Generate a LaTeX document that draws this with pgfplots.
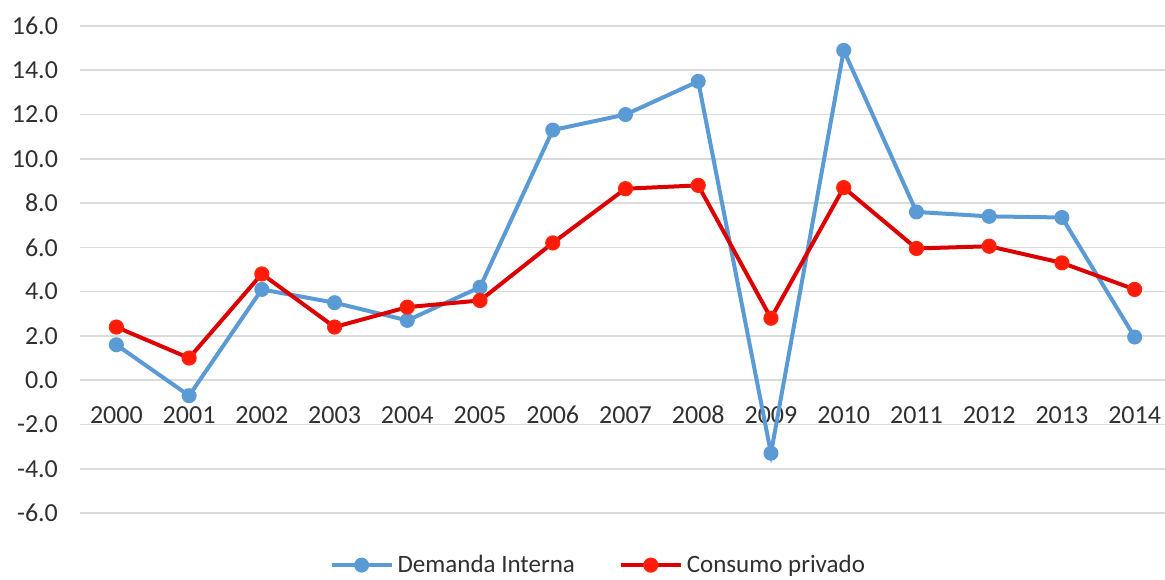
\documentclass[border=0pt]{standalone}
\usepackage{pgfplots}
\usepackage{pgfplotstable}
\pgfplotsset{compat=1.18}
\usepackage{fontspec}
\setmainfont{Carlito}

\definecolor{demanda}{HTML}{5B9BD5}
\definecolor{consumo}{HTML}{DC0000}
\definecolor{consumomark}{HTML}{FF1A0A}
\definecolor{gridc}{HTML}{DADADA}
\definecolor{labelc}{HTML}{303030}

% Tasas de variación anual (%)
\pgfplotstableread{
x  demanda  consumo
0   1.6     2.4
1  -0.7     1.0
2   4.1     4.8
3   3.5     2.4
4   2.7     3.3
5   4.2     3.6
6  11.3     6.2
7  12.0     8.65
8  13.5     8.8
9  -3.3     2.8
10 14.9     8.7
11  7.6     5.95
12  7.4     6.05
13  7.35    5.3
14  1.95    4.1
}\datos

\begin{document}
\begin{tikzpicture}
\begin{axis}[
  at={(0,0)}, anchor=south west,
  scale only axis,
  width=545.5pt, height=243.5pt,
  xmin=-0.5, xmax=14.5,
  ymin=-6, ymax=16,
  xtick={0,...,14},
  xticklabels={2000,2001,2002,2003,2004,2005,2006,2007,2008,2009,2010,2011,2012,2013,2014},
  ytick={-6,-4,...,16},
  ymajorgrids,
  major grid style={gridc, line width=0.8pt},
  axis line style={draw=none},
  major tick length=0pt,
  /pgf/number format/assume math mode=true,
  yticklabel style={/pgf/number format/fixed, /pgf/number format/fixed zerofill,
    /pgf/number format/precision=1},
  tick label style={font=\fontsize{13}{15}\selectfont, text=labelc},
  xticklabel style={anchor=center, yshift=49pt},
  yticklabel style={anchor=east, xshift=-7.5pt},
  legend columns=2,
  legend style={draw=none, fill=none, at={(0.476,-0.107)}, anchor=center,
    font=\fontsize{12.5}{15}\selectfont, text=labelc,
    /tikz/every even column/.append style={column sep=20pt},
    inner sep=0pt},
  legend image code/.code={
    \draw[mark repeat=2, mark phase=2, #1] plot coordinates {(0pt,0pt) (15pt,0pt) (30pt,0pt)};
  },
]
\addplot[demanda, line width=2pt, mark=*, mark size=3.5pt,
  mark options={fill=demanda, draw=demanda, line width=0.5pt}]
  table[x=x, y=demanda] {\datos};
\addlegendentry{Demanda Interna}
\addplot[consumo, line width=2pt, mark=*, mark size=3.5pt,
  mark options={fill=consumomark, draw=consumomark!85!orange, line width=0.6pt}]
  table[x=x, y=consumo] {\datos};
\addlegendentry{Consumo privado}
\end{axis}
\pgfresetboundingbox
\useasboundingbox (-40pt,-33pt) rectangle (542.5pt,256.5pt);
\end{tikzpicture}
\end{document}
